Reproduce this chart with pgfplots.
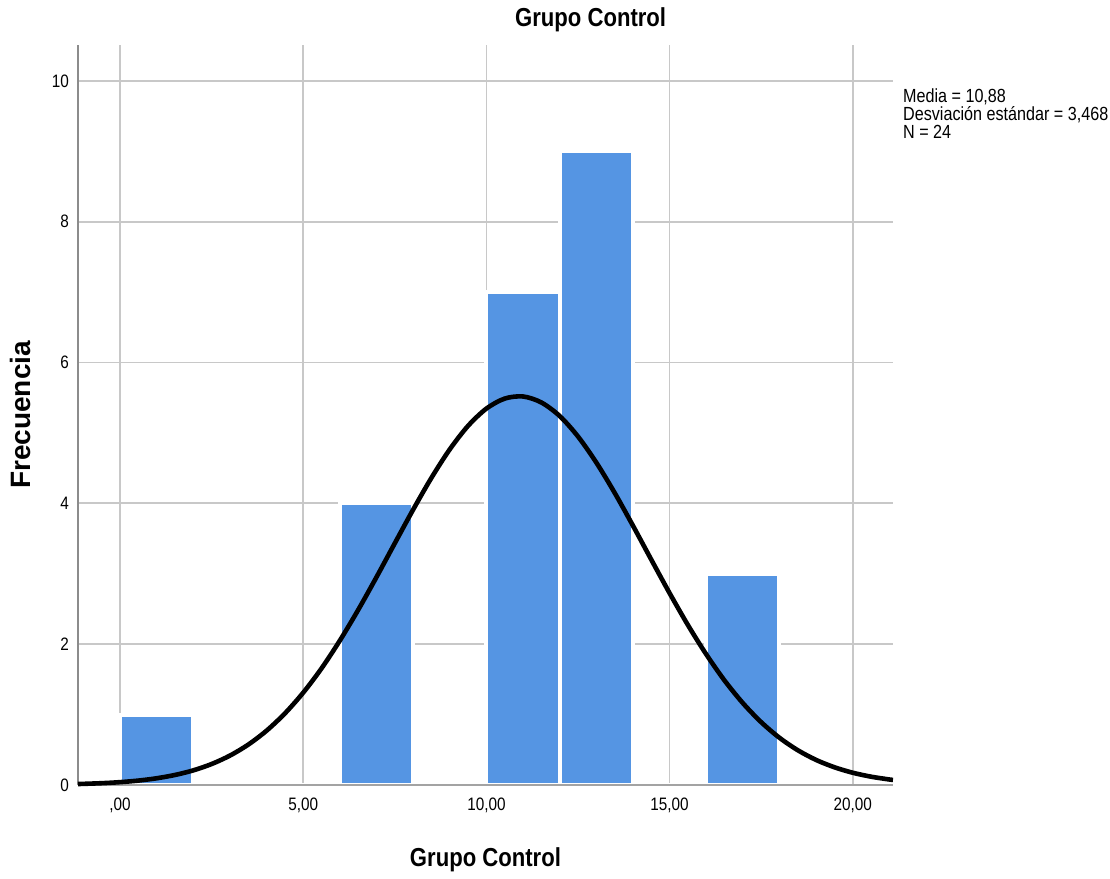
\documentclass[border=0pt]{standalone}
\usepackage{fontspec}
\setmainfont{Liberation Sans}
\newfontfamily\narrow[FakeStretch=0.85]{Liberation Sans}
\usepackage{pgfplots}
\pgfplotsset{compat=1.18}
\definecolor{BarBlue}{HTML}{5595E3}
\definecolor{GridGray}{HTML}{C8C8C8}
\definecolor{AxisGray}{HTML}{8C8C8C}
\begin{document}
\begin{tikzpicture}
\begin{axis}[
  scale only axis,width=407.5pt,height=370pt,
  xmin=-1.15,xmax=21.1,ymin=0,ymax=10.51,
  axis x line*=bottom,axis y line*=left,
  axis line style={draw=AxisGray,line width=1pt},
  major tick length=0pt,
  xtick={0,5,10,15,20},xticklabels={{,00},{5,00},{10,00},{15,00},{20,00}},
  ytick={0,2,4,6,8,10},yticklabels={0,2,4,6,8,10},
  ticklabel style={font=\narrow\fontsize{9}{9}\selectfont,text=black},
  xticklabel style={yshift=-3pt},
  yticklabel style={xshift=-1pt},
  grid=major,grid style={draw=GridGray,line width=0.9pt},
  clip=false,
  every axis title shift=0pt,
  title={\narrow\bfseries Grupo Control},
  title style={at={(0.629,1.034)},anchor=center,font=\fontsize{13}{13}\selectfont},
  xlabel={\narrow\bfseries Grupo Control},
  xlabel style={at={(0.5,-0.101)},anchor=center,font=\fontsize{13}{13}\selectfont},
  ylabel={\bfseries Frecuencia},
  ylabel style={at={(-0.071,0.5)},anchor=center,font=\fontsize{14}{14}\selectfont},
]
% histogram, bin width 2
\addplot[ybar interval,fill=BarBlue,draw=white,line width=2pt]
  coordinates {(0,1)(2,0)(4,0)(6,4)(8,0)(10,7)(12,9)(14,0)(16,3)(18,0)};
\draw[AxisGray!80,line width=1pt] (rel axis cs:0,0) -- (rel axis cs:1,0);
% fitted normal curve (mean 10,88, sd 3,468, N=24)
\addplot[black,line width=2.3pt,smooth] coordinates {
  (-1.15,0.0135)(-0.5,0.0254)(0,0.0403)(0.5,0.0626)(1,0.0954)(1.5,0.1424)
  (2,0.208)(2.5,0.298)(3,0.418)(3.5,0.574)(4,0.772)(4.5,1.017)(5,1.312)
  (5.5,1.657)(6,2.052)(6.5,2.487)(7,2.953)(7.5,3.434)(8,3.911)(8.5,4.363)
  (9,4.767)(9.5,5.101)(10,5.346)(10.5,5.488)(11,5.518)(11.5,5.433)
  (12,5.241)(12.5,4.950)(13,4.580)(13.5,4.151)(14,3.684)(14.5,3.202)
  (15,2.726)(15.5,2.273)(16,1.857)(16.5,1.485)(17,1.164)(17.5,0.893)
  (18,0.671)(18.5,0.494)(19,0.356)(19.5,0.252)(20,0.174)(20.5,0.118)
  (21,0.0781)(21.1,0.0718)};
\node[anchor=north west,align=left,inner sep=0pt,
  font=\narrow\fontsize{9.5}{9}\selectfont] at (rel axis cs:1.012,0.942)
  {Media = 10,88\\Desviación estándar = 3,468\\N = 24};
\path (rel axis cs:-0.0957,-0.1257) rectangle (rel axis cs:1.2663,1.0608);
\end{axis}
\end{tikzpicture}
\end{document}
